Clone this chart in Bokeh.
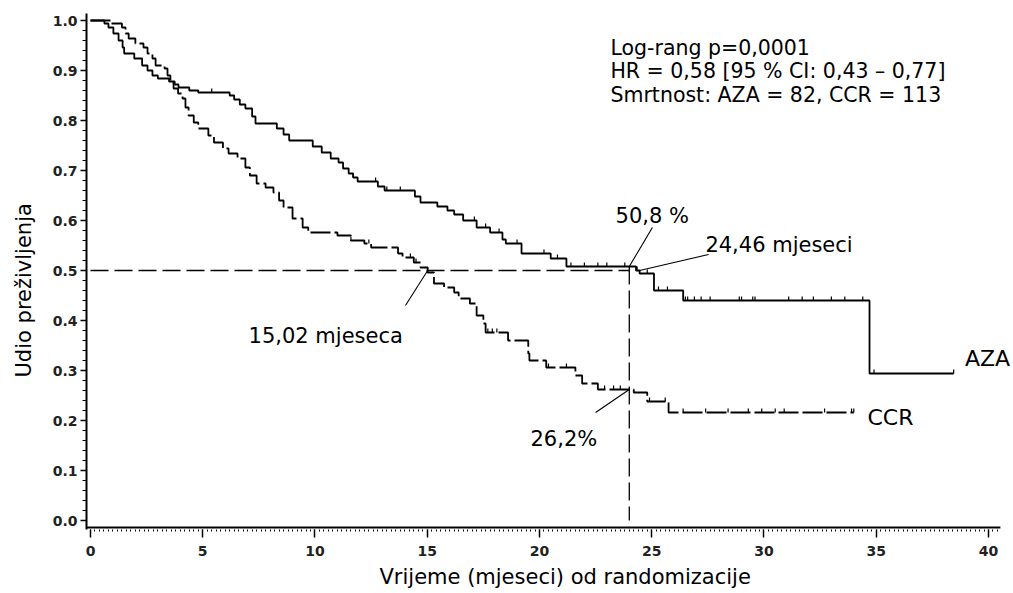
import numpy as np
from bokeh.plotting import figure
from bokeh.models import Range1d, FixedTicker, PrintfTickFormatter, Label, Title
from bokeh.embed import file_html
from bokeh.resources import INLINE

# ---------------- data ----------------
aza_time = [0, 0.62, 0.8, 1.02, 1.25, 1.43, 1.5, 1.95, 2.3, 2.54, 2.76, 3.0, 3.5, 3.75,
            3.92, 4.4, 4.8, 6.2, 6.4, 6.65, 6.9, 7.2, 7.35, 8.3, 8.6, 8.85, 9.9, 10.3,
            10.7, 11.05, 11.25, 11.5, 11.7, 11.9, 12.8, 13.1, 14.45, 14.7, 15.45, 15.9,
            16.2, 16.6, 17.2, 17.8, 18.35, 18.5, 19.2, 20.5, 21.2, 24.3, 24.46, 25.1,
            26.4, 34.7, 38.45]
aza_surv = [1.0, 0.994, 0.986, 0.974, 0.96, 0.946, 0.934, 0.924, 0.91, 0.90, 0.89, 0.884,
            0.878, 0.872, 0.866, 0.86, 0.856, 0.85, 0.842, 0.832, 0.824, 0.808, 0.794,
            0.784, 0.772, 0.76, 0.748, 0.736, 0.724, 0.716, 0.704, 0.694, 0.686, 0.678,
            0.668, 0.66, 0.648, 0.636, 0.628, 0.62, 0.612, 0.60, 0.586, 0.576, 0.562,
            0.554, 0.534, 0.524, 0.508, 0.50, 0.494, 0.46, 0.44, 0.294, 0.294]

ccr_time = [0, 0.9, 1.4, 1.56, 1.7, 2.0, 2.36, 2.54, 2.76, 2.9, 3.3, 3.43, 3.56, 3.7, 3.9,
            4.1, 4.23, 4.37, 4.6, 4.8, 5.25, 5.5, 5.9, 6.15, 6.55, 6.9, 7.1, 7.4, 7.8, 8.15,
            8.4, 8.6, 9.0, 9.45, 9.7, 11.0, 11.6, 12.2, 12.5, 13.7, 13.9, 14.4, 14.7, 15.02,
            15.3, 15.75, 16.2, 16.4, 16.9, 17.2, 17.5, 17.6, 18.6, 19.5, 19.55, 20.3, 21.6,
            21.9, 22.6, 24.2, 24.8, 25.75, 34.0]
ccr_surv = [1.0, 0.994, 0.986, 0.974, 0.964, 0.954, 0.946, 0.934, 0.924, 0.91, 0.904, 0.89,
            0.876, 0.864, 0.854, 0.844, 0.826, 0.81, 0.796, 0.784, 0.77, 0.756, 0.744, 0.734,
            0.724, 0.706, 0.69, 0.674, 0.666, 0.656, 0.64, 0.626, 0.604, 0.586, 0.576, 0.57,
            0.56, 0.554, 0.546, 0.534, 0.526, 0.516, 0.506, 0.496, 0.474, 0.466, 0.456, 0.444,
            0.434, 0.41, 0.394, 0.376, 0.36, 0.334, 0.32, 0.306, 0.29, 0.274, 0.262, 0.256,
            0.238, 0.216, 0.216]

aza_censor = [5.4, 11.7, 12.7, 13.2, 13.8, 17.1, 17.6, 18.2, 19.0, 20.2, 20.8, 21.4, 22.0,
              22.6, 23.0, 23.8, 24.35, 24.8, 25.3, 25.7, 26.5, 26.6, 26.9, 27.2, 27.6, 28.9,
              29.0, 29.5, 29.6, 31.1, 31.7, 32.2, 33.0, 33.6, 34.4, 34.9, 38.45]
ccr_censor = [11.6, 12.4, 14.25, 14.5, 17.7, 17.9, 18.1, 20.4, 21.2, 22.9, 23.3, 23.6, 24.9,
              25.6, 26.4, 27.4, 28.4, 29.3, 29.9, 30.5, 30.9, 32.7, 33.9, 34.0]

median_ccr = 15.02
median_aza = 24.46
landmark_time = 24.0
aza_at_landmark = 0.508
ccr_at_landmark = 0.262

x_major_ticks = [0, 5, 10, 15, 20, 25, 30, 35, 40]
y_major_ticks = [0.0, 0.1, 0.2, 0.3, 0.4, 0.5, 0.6, 0.7, 0.8, 0.9, 1.0]

stats_lines = ["Log-rang p=0,0001",
               "HR = 0,58 [95 % CI: 0,43 \u2013 0,77]",
               "Smrtnost: AZA = 82, CCR = 113"]
x_title = "Vrijeme (mjeseci) od randomizacije"
y_title = "Udio preživljenja"

FONT = "DejaVu Sans"


def surv_at(times, surv, t):
    t = np.asarray(t, dtype=float)
    idx = np.searchsorted(np.asarray(times), t, side="right") - 1
    return np.asarray(surv)[idx]


# ---------------- figure ----------------
X0, X1 = -0.178, 41.114
AXIS_END = 40.53
Y0, Y1 = -0.018, 1.014
Y_AXIS_LINE = -0.014

p = figure(width=1013, height=593,
           x_range=Range1d(X0, X1), y_range=Range1d(Y0, Y1),
           min_border_left=86, min_border_right=0, min_border_top=13, min_border_bottom=64,
           output_backend="svg", toolbar_location=None)
p.outline_line_color = None
p.grid.visible = False
p.background_fill_color = "white"
p.border_fill_color = "white"

x_minor = [round(v, 2) for v in np.arange(0.0, AXIS_END, 0.2)]
y_minor = [round(v, 2) for v in np.arange(0.0, 1.0001, 0.02)]
p.xaxis.ticker = FixedTicker(ticks=x_major_ticks, minor_ticks=x_minor)
p.yaxis.ticker = FixedTicker(ticks=y_major_ticks, minor_ticks=y_minor)
p.yaxis.formatter = PrintfTickFormatter(format="%.1f")

for ax in (p.xaxis, p.yaxis):
    ax.axis_line_width = 2
    ax.axis_line_color = "black"
    ax.major_tick_in = 0
    ax.minor_tick_in = 0
    ax.major_tick_line_width = 1.5
    ax.major_tick_line_color = "black"
    ax.minor_tick_line_color = "black"
    ax.major_label_text_font = FONT
    ax.major_label_text_font_size = "14px"
    ax.major_label_text_font_style = "bold"
    ax.major_label_text_color = "#222222"

p.xaxis.axis_line_color = None          # drawn below so that it stops at ~40.5
p.xaxis.major_tick_out = 8
p.xaxis.minor_tick_out = 2
p.xaxis.major_label_standoff = 8
p.yaxis.major_tick_out = 6
p.yaxis.minor_tick_out = 4
p.yaxis.major_label_standoff = 3

# x axis line
p.segment(x0=[X0], y0=[Y_AXIS_LINE], x1=[AXIS_END], y1=[Y_AXIS_LINE],
          line_color="black", line_width=2)

# reference dashed lines (median / 24-month landmark)
p.segment(x0=[0], y0=[0.5], x1=[landmark_time], y1=[0.5],
          line_color="black", line_width=1.3, line_dash="18 6")
p.segment(x0=[landmark_time], y0=[aza_at_landmark], x1=[landmark_time], y1=[0],
          line_color="black", line_width=1.3, line_dash="18 6")

# Kaplan-Meier curves
p.step(aza_time, aza_surv, mode="after", line_color="black", line_width=1.8)
p.step(ccr_time, ccr_surv, mode="after", line_color="black", line_width=1.8,
       line_dash="20 4")

# censoring ticks
ya = surv_at(aza_time, aza_surv, aza_censor)
p.segment(x0=aza_censor, y0=ya, x1=aza_censor, y1=ya + 0.008,
          line_color="black", line_width=1.2)
yc = surv_at(ccr_time, ccr_surv, ccr_censor)
p.segment(x0=ccr_censor, y0=yc, x1=ccr_censor, y1=yc + 0.008,
          line_color="black", line_width=1.2)

# leader lines for annotations
p.segment(x0=[25.03, 27.53, 14.03, 22.5],
          y0=[0.586, 0.532, 0.43, 0.216],
          x1=[landmark_time, median_aza, median_ccr, landmark_time],
          y1=[aza_at_landmark, 0.5, 0.5, ccr_at_landmark],
          line_color="black", line_width=1.1)


def add_label(x, y, text, size="21px", align="left"):
    p.add_layout(Label(x=x, y=y, text=text, text_font=FONT, text_font_size=size,
                       text_color="black", text_align=align,
                       text_baseline="alphabetic"))


# statistics block
for i, line in enumerate(stats_lines):
    add_label(23.16, 0.946 - 0.047 * i, line, size="20.5px")

add_label(23.39, 0.61, "50,8 %")
add_label(27.39, 0.552, "24,46 mjeseci")
add_label(7.04, 0.37, "15,02 mjeseca")
add_label(19.6, 0.164, "26,2%")
add_label(38.95, 0.324, "AZA", size="22px")
add_label(34.61, 0.206, "CCR", size="22px")

# axis titles (as side titles so they are not clipped by the frame)
p.add_layout(Title(text=x_title, align="left", offset=293, standoff=8,
                   text_font=FONT, text_font_size="21px", text_font_style="normal",
                   text_color="black"), "below")
p.add_layout(Title(text=y_title, align="left", offset=152, standoff=23,
                   vertical_align="top",
                   text_font=FONT, text_font_size="21px", text_font_style="normal",
                   text_color="black"), "left")

open("out.html", "w").write(file_html(p, INLINE))
